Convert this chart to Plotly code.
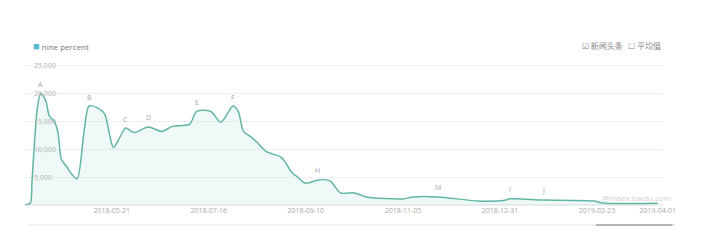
import datetime as dt
import plotly.graph_objects as go

base = dt.date(2018, 5, 21)
day_offsets = [-50, -47, -46, -45, -43, -41, -38, -36, -33, -31, -29, -26, -24, -20, -16, -13,
               -7, -4, -1, 1, 5, 8, 13, 21, 29, 35, 45, 49, 57, 63, 70, 73, 76, 80, 84, 89,
               98, 104, 107, 111, 114, 119, 126, 132, 140, 147, 168, 174, 188, 211, 226, 230,
               249, 278, 283, 315]
values = [0, 300, 4000, 9000, 17000, 20000, 18700, 16000, 15000, 13000, 8200, 6900, 5900, 4700,
          13000, 17750, 17200, 16300, 12300, 10300, 12300, 13800, 13000, 14000, 13200, 14100,
          14500, 16800, 16800, 14850, 17750, 16800, 13200, 12300, 11200, 9600, 8500, 5800, 5070,
          4000, 4000, 4500, 4300, 2170, 2170, 1450, 1090, 1450, 1450, 725, 800, 1100, 900, 700,
          360, 300]
dates = [base + dt.timedelta(days=d) for d in day_offsets]

event_labels = ["A", "B", "C", "D", "E", "F", "H", "M", "I", "J"]
event_offsets = [-41, -13, 8, 21, 49, 70, 119, 188, 230, 249]
event_values = [20000, 17750, 13800, 14000, 16800, 17750, 4500, 1450, 1100, 900]
event_dates = [base + dt.timedelta(days=d) for d in event_offsets]

tick_dates = ["2018-05-21", "2018-07-16", "2018-09-10", "2018-11-05", "2018-12-31",
              "2019-02-25", "2019-04-01"]
y_ticks = [5000, 10000, 15000, 20000, 25000]
y_tick_text = ["5,000", "10,000", "15,000", "20,000", "25,000"]

line_color = "#63b5a5"
grey = "#a9a9a9"

fig = go.Figure()
fig.add_trace(go.Scatter(
    x=dates, y=values, mode="lines",
    line=dict(color=line_color, width=1.5, shape="spline", smoothing=0.8),
    fill="tozeroy", fillcolor="rgba(120,205,200,0.13)",
    showlegend=False, hoverinfo="skip"))

for lab, d, v in zip(event_labels, event_dates, event_values):
    fig.add_annotation(x=d, y=v, text=lab, showarrow=False, yshift=9,
                       font=dict(size=7, color="#a5a5a5", family="Open Sans"))

fig.add_annotation(xref="paper", yref="paper", x=0.01, y=1.097, xanchor="left", yanchor="middle",
                   text="<span style='color:#5ab7cf;font-size:11px'>■</span> nine percent",
                   showarrow=False, font=dict(size=8, color="#777", family="Open Sans"))
fig.add_annotation(xref="paper", yref="paper", x=1.0, y=1.097, xanchor="right", yanchor="middle",
                   text="☑ 新闻头条   ☐ 平均值", showarrow=False,
                   font=dict(size=8, color="#888", family="Noto Sans CJK SC"))
fig.add_annotation(xref="paper", yref="paper", x=1.015, y=0.0, xanchor="right", yanchor="bottom",
                   text="@index.baidu.com", showarrow=False,
                   font=dict(size=8, color="#cfcfcf", family="Open Sans"))

fig.add_shape(type="line", xref="paper", yref="paper", x0=0.005, x1=1.02, y0=-0.138, y1=-0.138,
              line=dict(color="#e3e3e3", width=1))
fig.add_shape(type="line", xref="paper", yref="paper", x0=0.895, x1=1.015, y0=-0.138, y1=-0.138,
              line=dict(color="#777", width=1))

fig.update_layout(
    width=707, height=241,
    margin=dict(l=25, r=44, t=60, b=36),
    paper_bgcolor="white", plot_bgcolor="white",
    font=dict(family="Open Sans", size=7, color=grey),
    showlegend=False,
    xaxis=dict(type="date", range=["2018-04-01", "2019-04-04"],
               tickvals=tick_dates, ticktext=tick_dates,
               showgrid=False, showline=False, zeroline=False, ticks="",
               tickfont=dict(size=7, color=grey)),
    yaxis=dict(range=[0, 26000], tickvals=y_ticks, ticktext=y_tick_text,
               ticklabelposition="inside", ticklabelstandoff=6,
               showgrid=True, gridcolor="#f0f0f0", gridwidth=1,
               zeroline=True, zerolinecolor="#eeeeee", showline=False, ticks="",
               tickfont=dict(size=7, color="#b5b5b5")),
)

fig.write_html("out.html")
